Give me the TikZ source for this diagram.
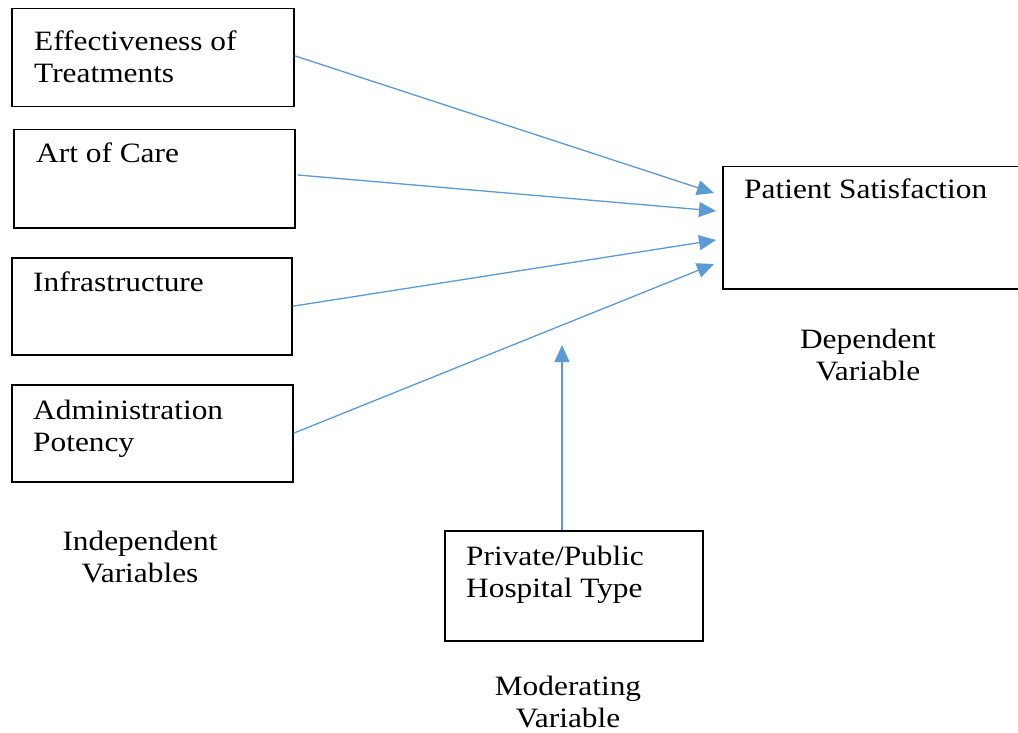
\documentclass[tikz,border=0pt]{standalone}
\usepackage{fontspec}
\setmainfont{Liberation Serif}[FakeStretch=1.12]
\usetikzlibrary{arrows.meta,calc}
\definecolor{arr}{HTML}{5B9BD5}
\begin{document}
\begin{tikzpicture}[x=1pt,y=-1pt,
  box/.style={draw=black,line width=1.5pt,minimum width=#1,anchor=north west,inner sep=0pt},
  txt/.style={font=\fontsize{28}{32}\selectfont,inner sep=0pt,align=left,anchor=base west},
  ctxt/.style={font=\fontsize{28}{32}\selectfont,inner sep=0pt,align=center,anchor=base},
  link/.style={draw=arr,line width=1.3pt,-{Triangle[length=17pt,width=15pt]}}]
\useasboundingbox[fill=white] (0,0) rectangle (1018,733);
% boxes
\node[box=282pt,minimum height=98pt] (b1) at (11,8) {};
\node[box=281pt,minimum height=98pt] (b2) at (13,129) {};
\node[box=280pt,minimum height=97pt] (b3) at (11,257) {};
\node[box=281pt,minimum height=97pt] (b4) at (11,384) {};
\node[box=297pt,minimum height=122pt] (ps) at (722,166) {};
\node[box=258pt,minimum height=110pt] (ht) at (444,530) {};
% texts (anchor = baseline of last line)
\node[txt] (t1) at (34,83) {Effectiveness of\\Treatments};
\node[txt] (t2) at (36,163) {Art of Care};
\node[txt] (t3) at (33,291) {Infrastructure};
\node[txt] (t4) at (33,451) {Administration\\Potency};
\node[txt] (t5) at (744,199) {Patient Satisfaction};
\node[txt] (t6) at (466,597) {Private/Public\\Hospital Type};
\node[ctxt] (l1) at (140,582) {Independent\\Variables};
\node[ctxt] (l2) at (868,380) {Dependent\\Variable};
\node[ctxt] (l3) at (568,727) {Moderating\\Variable};
% targets
\coordinate (e1) at (714,193);
\coordinate (e2) at (716,211);
\coordinate (e3) at (716,240);
\coordinate (e4) at (714,264);
\coordinate (e5) at (562,345);
\coordinate (s2) at (298,175);
\draw[link] (b1.east) ++(0,-2) -- (e1);
\draw[link] (s2) -- (e2);
\draw[link] (b3.east) -- (e3);
\draw[link] (b4.east) -- (e4);
\draw[link] (ht.north -| e5) -- (e5);
\end{tikzpicture}
\end{document}
